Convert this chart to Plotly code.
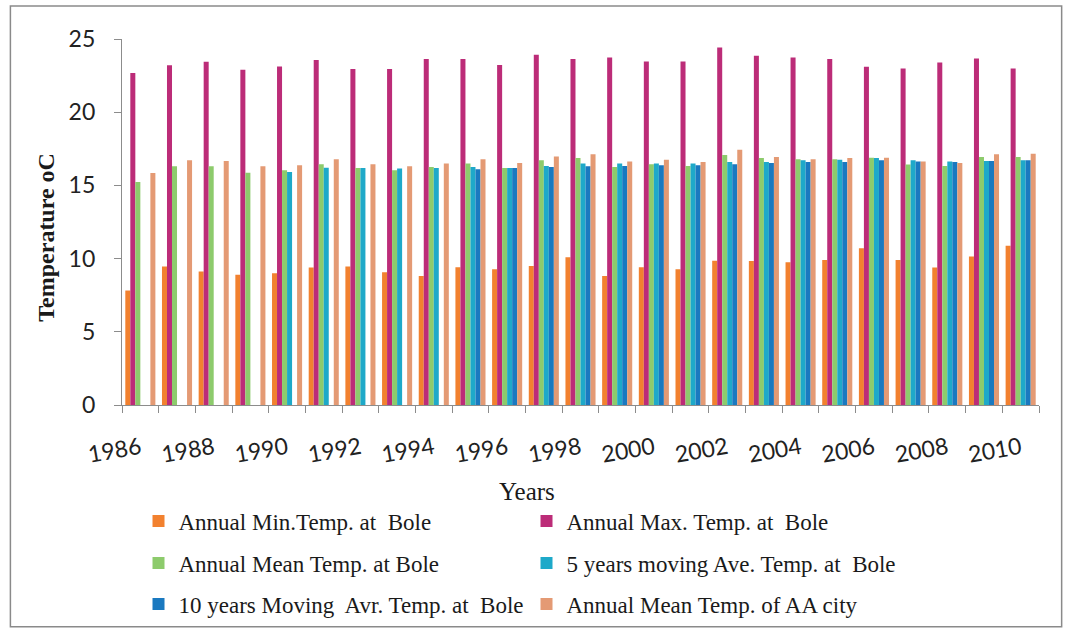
import plotly.graph_objects as go

years = list(range(1986, 2011))

min_temp = [7.82, 9.46, 9.12, 8.89, 9.00, 9.39, 9.46, 9.07, 8.82, 9.41, 9.27, 9.50, 10.09,
            8.82, 9.41, 9.27, 9.86, 9.84, 9.75, 9.91, 10.70, 9.91, 9.39, 10.14, 10.88]
max_temp = [22.68, 23.20, 23.45, 22.90, 23.13, 23.56, 22.95, 22.95, 23.63, 23.63, 23.22, 23.92, 23.63,
            23.74, 23.47, 23.47, 24.42, 23.85, 23.74, 23.63, 23.11, 22.99, 23.40, 23.67, 22.99]
mean_temp = [15.24, 16.30, 16.30, 15.87, 16.03, 16.44, 16.19, 16.03, 16.26, 16.49, 16.19, 16.71, 16.87,
             16.26, 16.44, 16.33, 17.08, 16.87, 16.78, 16.78, 16.89, 16.42, 16.33, 16.94, 16.94]
ma5 = [None, None, None, None,
       15.92, 16.21, 16.19, 16.15, 16.19, 16.26, 16.19, 16.33, 16.49, 16.49, 16.49, 16.49,
       16.60, 16.60, 16.71, 16.76, 16.87, 16.71, 16.64, 16.67, 16.71]
ma10 = [None, None, None, None, None, None, None, None, None,
        16.10, 16.19, 16.26, 16.30, 16.33, 16.37, 16.37, 16.44, 16.53, 16.60, 16.60,
        16.71, 16.64, 16.60, 16.67, 16.71]
aa_city = [15.85, 16.71, 16.67, 16.30, 16.37, 16.78, 16.44, 16.30, 16.49, 16.78, 16.53, 16.98, 17.12,
           16.64, 16.76, 16.60, 17.44, 16.94, 16.78, 16.87, 16.89, 16.64, 16.53, 17.12, 17.17]

series_names = [
    "Annual Min.Temp. at\u00a0 Bole",
    "Annual Max. Temp. at\u00a0 Bole",
    "Annual Mean Temp. at Bole",
    "5 years moving Ave. Temp. at\u00a0 Bole",
    "10 years Moving\u00a0 Avr. Temp. at\u00a0 Bole",
    "Annual Mean Temp. of AA city",
]
series_values = [min_temp, max_temp, mean_temp, ma5, ma10, aa_city]
series_colors = ["#F2812F", "#BC2C78", "#8DCB6C", "#1EA9C9", "#1A79C0", "#E49A74"]
legend_rows = ["legend", "legend", "legend2", "legend2", "legend3", "legend3"]

fig = go.Figure()
for name, vals, col, lg in zip(series_names, series_values, series_colors, legend_rows):
    fig.add_trace(go.Bar(x=years, y=vals, name=name, legend=lg,
                         marker=dict(color=col, line=dict(width=0))))

axis_gray = "#8C8C8C"
legend_font = dict(family="Liberation Serif", size=23, color="#1a1a1a")


def legend_row(ypos):
    return dict(orientation="h", x=0.018, xanchor="left", y=ypos, yanchor="top",
                font=legend_font, entrywidth=343, entrywidthmode="pixels",
                bgcolor="rgba(0,0,0,0)")


fig.update_layout(
    width=1066, height=636,
    margin=dict(l=122, r=27, t=39, b=230),
    paper_bgcolor="white", plot_bgcolor="white",
    barmode="group", bargap=0.18, bargroupgap=0,
    showlegend=True,
    legend=legend_row(-0.255),
    legend2=legend_row(-0.255 - 42 / 366.7),
    legend3=legend_row(-0.255 - 83 / 366.7),
    xaxis=dict(
        range=[1985.5, 2010.5], tick0=1986, dtick=2, tickangle=-10,
        ticks="", showline=True, linecolor=axis_gray, linewidth=1.2,
        showgrid=False, zeroline=False,
        tickfont=dict(family="Lato", size=23, color="#222"),
        ticklabelstandoff=20,
        minor=dict(tick0=1985.5, dtick=1, ticks="outside", ticklen=7, tickcolor=axis_gray, tickwidth=1.2, showgrid=False),
    ),
    yaxis=dict(
        range=[0, 25], dtick=5, ticks="outside", ticklen=7, tickcolor=axis_gray, tickwidth=1.2,
        showline=True, linecolor=axis_gray, linewidth=1.2, showgrid=False, zeroline=False,
        tickfont=dict(family="Lato", size=23, color="#222"),
        ticklabelstandoff=14,
    ),
    annotations=[
        dict(text="Years", xref="paper", yref="paper", x=0.4417, y=-0.235,
             xanchor="center", yanchor="middle", showarrow=False,
             font=dict(family="Liberation Serif", size=25, color="#1a1a1a")),
        dict(text="<b>Temperature oC</b>", xref="paper", yref="paper", x=-0.0825, y=0.458,
             xanchor="center", yanchor="middle", textangle=-90, showarrow=False,
             font=dict(family="Liberation Serif", size=24, color="#1a1a1a")),
    ],
    shapes=[
        dict(type="rect", xref="paper", yref="paper", x0=-0.1217, x1=1.0247, y0=-0.606, y1=1.09,
             line=dict(color="#8a8a8a", width=1.5), fillcolor="rgba(0,0,0,0)", layer="below"),
    ],
)

fig.write_html("out.html")
